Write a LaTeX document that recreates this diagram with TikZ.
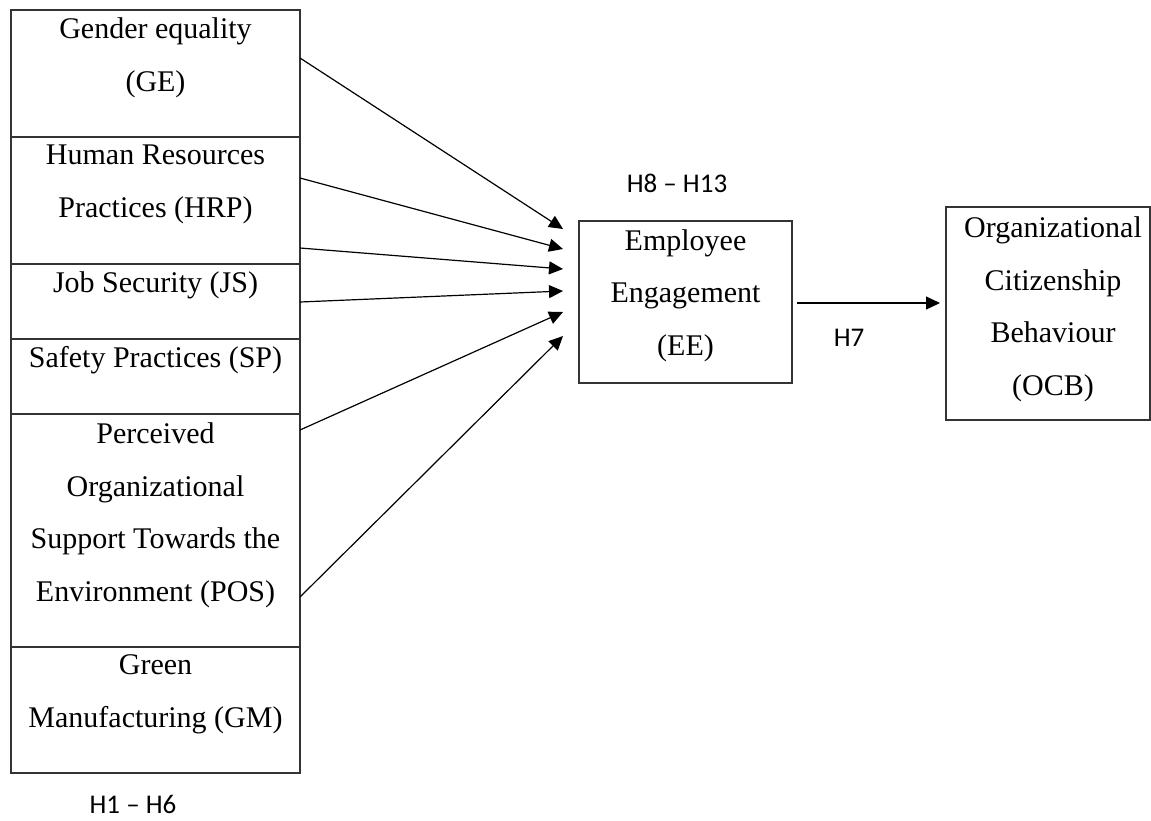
\documentclass[tikz,border=0pt]{standalone}
\usepackage{fontspec}
\setmainfont{Liberation Serif}
\newfontfamily\hfont{Carlito}
\usetikzlibrary{arrows.meta}
\tikzset{
  box/.style={draw=black!80, line width=1.5pt, inner sep=0pt, fill=none},
  lbl/.style={font=\fontsize{30}{52.5}\selectfont, align=center, inner sep=0pt, anchor=base},
  hyp/.style={font=\hfont\fontsize{27}{32}\selectfont, inner sep=0pt, anchor=base},
  arr/.style={line width=1.2pt, -{Triangle[length=14pt,width=13pt]}}
}
\begin{document}
\begin{tikzpicture}[x=1pt,y=-1pt]
\useasboundingbox (0,0) rectangle (1151,820);
% left stack
\node[box, minimum width=289pt, minimum height=127pt] (ge)  at (155.5,73.5) {};
\node[box, minimum width=289pt, minimum height=127pt] (hrp) at (155.5,200.5) {};
\node[box, minimum width=289pt, minimum height=75pt]  (js)  at (155.5,301.5) {};
\node[box, minimum width=289pt, minimum height=75pt]  (sp)  at (155.5,376.5) {};
\node[box, minimum width=289pt, minimum height=233pt] (pos) at (155.5,530.5) {};
\node[box, minimum width=289pt, minimum height=126pt] (gm)  at (155.5,710) {};
% text nodes: anchor=base is the baseline of the last line
\node[lbl] (tge)  at ([yshift=-82pt]ge.north)  {Gender equality\\(GE)};
\node[lbl] (thrp) at ([yshift=-81pt]hrp.north) {Human Resources\\Practices (HRP)};
\node[lbl] (tjs)  at ([yshift=-29pt]js.north)  {Job Security (JS)};
\node[lbl] (tsp)  at ([yshift=-29pt]sp.north)  {Safety Practices (SP)};
\node[lbl] (tpos) at ([yshift=-188pt]pos.north) {Perceived\\Organizational\\Support Towards the\\Environment (POS)};
\node[lbl] (tgm)  at ([yshift=-81pt]gm.north)  {Green\\Manufacturing (GM)};
% EE
\node[box, minimum width=213pt, minimum height=162pt] (ee) at (685.5,302) {};
\node[lbl] (tee) at ([yshift=-135pt]ee.north) {Employee\\Engagement\\(EE)};
% OCB
\node[box, minimum width=204pt, minimum height=213pt] (ocb) at (1048,313.5) {};
\node[lbl] (tocb) at ([xshift=5pt,yshift=-189pt]ocb.north) {Organizational\\Citizenship\\Behaviour\\(OCB)};
% hypothesis labels
\node[hyp] (h813) at (677,192) {H8 – H13};
\node[hyp] (h7) at (849,346) {H7};
\node[hyp] (h16) at (133,813) {H1 – H6};
% arrows
\coordinate (s1) at (300,58);  \coordinate (t1) at (563,229);
\coordinate (s2) at (300,178); \coordinate (t2) at (563,249);
\coordinate (s3) at (300,248); \coordinate (t3) at (563,269);
\coordinate (s4) at (300,302); \coordinate (t4) at (563,291);
\coordinate (s5) at (300,430); \coordinate (t5) at (563,312);
\coordinate (s6) at (300,597); \coordinate (t6) at (563,336);
\foreach \i in {1,...,6} {\draw[arr] (s\i) -- (t\i);}
\coordinate (s7) at (797,303); \coordinate (t7) at (940,303);
\draw[arr] (s7) -- (t7);
\end{tikzpicture}
\end{document}
